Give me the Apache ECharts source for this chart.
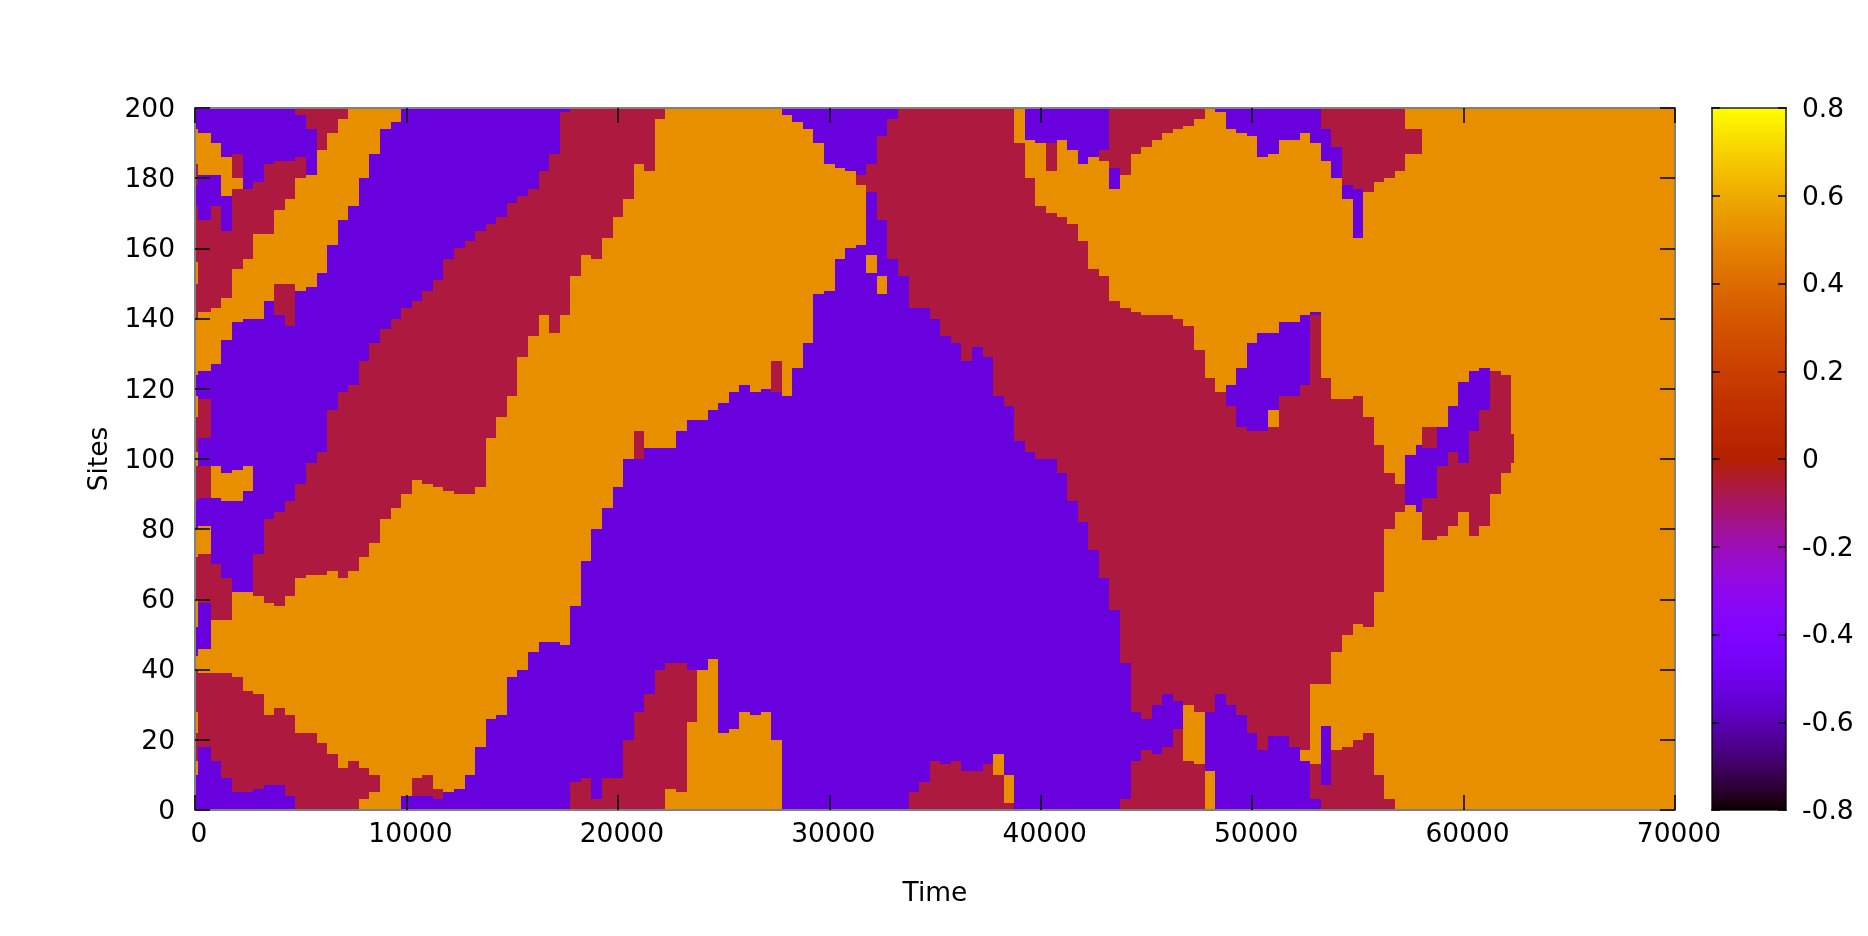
<!DOCTYPE html>
<html>
<head>
<meta charset="utf-8">
<style>
  html, body { margin: 0; padding: 0; background: #fff; }
  #chart { width: 1868px; height: 936px; }
</style>
<script src="https://cdn.jsdelivr.net/npm/echarts@6/dist/echarts.min.js"></script>
</head>
<body>
<div id="chart"></div>
<script>
// spin values of the three domains
const P = -0.53, C = -0.064, O = 0.52;

const timeTicks = [0, 10000, 20000, 30000, 40000, 50000, 60000, 70000];
const siteTicks = [0, 20, 40, 60, 80, 100, 120, 140, 160, 180, 200];
const colorTicks = [-0.8, -0.6, -0.4, -0.2, 0, 0.2, 0.4, 0.6, 0.8];

// each row: start time of the column, then value,topSite pairs from site 0 upwards
const t0to10k = [
  [0, P,10, O,14, C,22, O,28, C,40, O,44, P,52, O,60, C,72, O,80, P,88, C,98, O,102, C,112, O,118, P,124, O,140, C,150, O,156, C,172, P,178, C,184, O,194, P,200],
  [150, P,18, C,39, O,46, P,59, C,73, O,81, P,89, C,98, P,106, C,117, P,125, O,142, C,168, P,181, O,193, P,200],
  [750, P,14, C,39, O,54, C,70, P,89, O,98, P,127, O,143, C,172, P,181, O,190, P,200],
  [1250, P,9, C,39, O,54, C,66, P,88, O,96, P,134, O,146, C,165, P,175, O,186, P,200],
  [1750, P,5, C,38, O,62, P,88, O,97, P,139, O,154, C,177, O,180, C,187, P,200],
  [2250, P,5, C,34, O,62, P,91, O,98, P,140, O,157, C,177, P,200],
  [2750, P,6, C,33, O,61, C,73, P,140, O,164, C,179, P,200],
  [3250, P,7, C,27, O,59, C,83, P,145, O,164, C,184, P,200],
  [3750, P,7, C,29, O,58, C,85, P,141, C,150, O,171, C,185, P,200],
  [4250, P,4, C,27, O,61, C,88, P,138, C,150, O,174, C,185, P,200],
  [4750, C,22, O,66, C,93, P,148, O,180, C,186, P,198, C,200],
  [5250, C,22, O,67, C,99, P,149, O,181, P,194, C,200],
  [5750, C,19, O,67, C,102, P,153, O,188, C,200],
  [6250, C,16, O,68, C,114, P,161, O,193, C,200],
  [6750, C,12, O,66, C,119, P,168, O,197, C,200],
  [7250, C,14, O,68, C,121, P,172, O,200],
  [7750, O,3, C,12, O,72, C,128, P,180, O,200],
  [8250, O,5, C,10, O,76, C,133, P,187, O,200],
  [8750, O,83, C,137, P,194, O,200],
  [9250, O,86, C,140, P,196, O,200],
  [9750, P,4, O,90, C,143, P,200]
];

const t10kto20k = [
  [10250, P,4, C,9, O,94, C,145, P,200],
  [10750, P,4, C,10, O,93, C,148, P,200],
  [11250, P,3, C,6, O,92, C,151, P,200],
  [11750, P,5, O,91, C,157, P,200],
  [12250, P,6, O,90, C,160, P,200],
  [12750, P,10, O,90, C,162, P,200],
  [13250, P,18, O,92, C,165, P,200],
  [13750, P,26, O,106, C,167, P,200],
  [14250, P,27, O,112, C,169, P,200],
  [14750, P,38, O,118, C,173, P,200],
  [15250, P,40, O,129, C,175, P,200],
  [15750, P,45, O,135, C,177, P,200],
  [16250, P,48, O,141, C,182, P,200],
  [16750, P,48, O,136, C,187, P,200],
  [17250, P,47, O,141, C,199, P,200],
  [17750, C,8, P,58, O,152, C,200],
  [18250, C,9, P,71, O,158, C,200],
  [18750, C,3, P,80, O,157, C,200],
  [19250, C,9, P,86, O,163, C,200],
  [19750, C,9, P,92, O,169, C,200]
];

const t20kto30k = [
  [20250, C,20, P,100, O,174, C,200],
  [20750, C,28, P,100, C,108, O,184, C,200],
  [21250, C,33, P,103, O,182, C,200],
  [21750, C,40, P,103, O,197, C,200],
  [22250, O,6, C,42, P,103, O,200],
  [22750, O,5, C,42, P,108, O,200],
  [23250, O,25, C,40, P,111, O,200],
  [23750, O,40, P,111, O,200],
  [24250, O,43, P,114, O,200],
  [24750, O,22, P,116, O,200],
  [25250, O,23, P,119, O,200],
  [25750, O,28, P,121, O,200],
  [26250, O,27, P,119, O,200],
  [26750, O,28, P,120, O,200],
  [27250, O,20, P,119, C,128, O,200],
  [27750, P,118, O,198, P,200],
  [28250, P,126, O,196, P,200],
  [28750, P,133, O,194, P,200],
  [29250, P,147, O,190, P,200],
  [29750, P,148, O,184, P,200]
];

const t30kto40k = [
  [30250, P,157, O,183, P,200],
  [30750, P,160, O,182, P,200],
  [31250, P,161, O,178, C,181, P,200],
  [31750, P,153, O,158, P,176, C,184, P,200],
  [32250, P,147, O,152, P,168, C,192, P,200],
  [32750, P,157, C,197, P,200],
  [33250, P,152, C,200],
  [33750, C,5, P,143, C,200],
  [34250, C,8, P,143, C,200],
  [34750, C,14, P,140, C,200],
  [35250, C,13, P,135, C,200],
  [35750, C,14, P,133, C,200],
  [36250, C,11, P,128, C,200],
  [36750, C,11, P,132, C,200],
  [37250, C,13, P,129, C,200],
  [37750, C,10, O,16, P,118, C,200],
  [38250, C,2, O,10, P,115, C,200],
  [38750, P,105, C,190, O,200],
  [39250, P,102, C,180, O,191, P,200],
  [39750, P,100, C,172, O,190, P,200]
];

const t40kto50k = [
  [40250, P,100, C,170, O,182, C,190, P,200],
  [40750, P,96, C,169, O,191, P,200],
  [41250, P,88, C,167, O,188, P,200],
  [41750, P,82, C,162, O,184, P,200],
  [42250, P,74, C,154, O,186, P,200],
  [42750, P,66, C,152, O,185, C,188, P,200],
  [43250, P,57, C,145, O,177, P,183, C,200],
  [43750, C,3, P,42, C,143, O,181, C,200],
  [44250, C,14, P,28, C,142, O,187, C,200],
  [44750, C,17, P,26, C,141, O,189, C,200],
  [45250, C,16, P,30, C,141, O,191, C,200],
  [45750, C,18, P,33, C,141, O,193, C,200],
  [46250, C,23, P,31, C,140, O,194, C,200],
  [46750, C,14, O,30, C,138, O,195, C,200],
  [47250, C,13, O,28, C,131, O,197, C,200],
  [47750, O,11, P,28, C,123, O,200],
  [48250, P,33, C,119, O,199, P,200],
  [48750, P,30, C,115, P,121, O,194, P,200],
  [49250, P,27, C,109, P,126, O,193, P,200],
  [49750, P,22, C,108, P,133, O,192, P,200]
];

const t50kto70k = [
  [50250, P,17, C,108, P,136, O,186, P,200],
  [50750, P,21, C,109, O,114, P,136, O,187, P,200],
  [51250, P,21, C,118, P,139, O,191, P,200],
  [51750, P,18, C,118, P,139, O,191, P,200],
  [52250, P,14, O,17, C,121, P,141, O,193, P,200],
  [52750, P,3, C,13, O,36, C,141, P,142, O,190, P,200],
  [53250, C,7, P,24, O,36, C,123, O,185, P,194, C,200],
  [53750, C,17, O,45, C,117, O,180, P,189, C,200],
  [54250, C,18, O,50, C,117, O,174, P,178, C,200],
  [54750, C,20, O,53, C,118, O,163, P,177, C,200],
  [55250, C,22, O,52, C,112, O,176, C,200],
  [55750, C,10, O,62, C,104, O,179, C,200],
  [56250, C,3, O,80, C,96, O,180, C,200],
  [56750, O,85, C,93, O,182, C,200],
  [57250, O,87, P,101, O,187, C,194, O,200],
  [57750, O,85, P,104, O,187, C,194, O,200],
  [58050, O,77, C,89, P,103, C,109, O,200],
  [58750, O,78, C,98, P,109, O,200],
  [59250, O,81, C,102, P,115, O,200],
  [59750, O,85, C,99, P,122, O,200],
  [60250, O,78, C,108, P,125, O,200],
  [60750, O,81, C,114, P,126, O,200],
  [61250, O,90, C,125, O,200],
  [61750, O,96, C,124, O,200],
  [62250, O,99, C,107, O,200],
  [62400, O,200]
];

// gnuplot rgbformulae 7,5,15
function palette(v) {
  const x = (v + 0.8) / 1.6;
  const r = Math.sqrt(x), g = x * x * x, b = Math.max(0, Math.sin(2 * Math.PI * x));
  return 'rgb(' + Math.round(r * 255) + ',' + Math.round(g * 255) + ',' + Math.round(b * 255) + ')';
}

const rows = [].concat(t0to10k, t10kto20k, t20kto30k, t30kto40k, t40kto50k, t50kto70k);
const cells = [];
rows.forEach((row, i) => {
  const end = i + 1 < rows.length ? rows[i + 1][0] : 70000;
  let low = 0.4;
  for (let k = 1; k < row.length; k += 2) {
    cells.push([row[0], end, low, row[k + 1], row[k]]);
    low = row[k + 1];
  }
});

const gradientStops = [];
for (let i = 0; i <= 128; i++) {
  gradientStops.push({ offset: i / 128, color: palette(0.8 - 1.6 * i / 128) });
}

const chart = echarts.init(document.getElementById('chart'), null, { renderer: 'canvas' });

const labelFont = { fontFamily: 'DejaVu Sans', fontSize: 26.5, color: '#000' };
const frame = { show: true, onZero: false, lineStyle: { color: '#808080', width: 2 } };
const barFrame = { show: true, onZero: false, lineStyle: { color: 'rgba(0,0,0,0.65)', width: 2 } };
const noSplit = { show: false };

function tickStyle(len) {
  return { show: true, inside: true, length: len, lineStyle: { color: 'rgba(0,0,0,0.75)', width: 2 } };
}

chart.setOption({
  animation: false,
  backgroundColor: '#fff',
  grid: [
    { left: 195, top: 108, width: 1480, height: 702 },
    { left: 1712, top: 108, width: 74, height: 702 }
  ],
  xAxis: [
    {
      gridIndex: 0, type: 'value', min: 0, max: 70000, interval: 10000, z: 5,
      name: 'Time', nameLocation: 'middle', nameGap: 71,
      nameTextStyle: { fontFamily: 'DejaVu Sans', fontSize: 26.5, color: '#000' },
      axisLine: frame, axisTick: tickStyle(15), splitLine: noSplit,
      axisLabel: Object.assign({ margin: 12, padding: [0, 0, 0, 8], formatter: v => String(v) }, labelFont)
    },
    {
      gridIndex: 0, type: 'value', position: 'top', min: 0, max: 70000, interval: 10000, z: 5,
      axisLine: frame, axisTick: tickStyle(15), splitLine: noSplit, axisLabel: { show: false }
    },
    {
      gridIndex: 1, type: 'value', min: 0, max: 1, z: 5, axisLine: barFrame, axisTick: { show: false },
      splitLine: noSplit, axisLabel: { show: false }
    },
    {
      gridIndex: 1, type: 'value', position: 'top', min: 0, max: 1, z: 5, axisLine: barFrame, axisTick: { show: false },
      splitLine: noSplit, axisLabel: { show: false }
    }
  ],
  yAxis: [
    {
      gridIndex: 0, type: 'value', min: 0, max: 200, interval: 20, z: 5,
      name: 'Sites', nameLocation: 'middle', nameGap: 80, nameRotate: 90,
      nameTextStyle: { fontFamily: 'DejaVu Sans', fontSize: 26.5, color: '#000' },
      axisLine: frame, axisTick: tickStyle(15), splitLine: noSplit,
      axisLabel: Object.assign({ margin: 20, verticalAlign: 'top', lineHeight: 4 }, labelFont)
    },
    {
      gridIndex: 0, type: 'value', position: 'right', min: 0, max: 200, interval: 20, z: 5,
      axisLine: frame, axisTick: tickStyle(15), splitLine: noSplit, axisLabel: { show: false }
    },
    {
      gridIndex: 1, type: 'value', position: 'right', min: -0.8, max: 0.8, interval: 0.2, z: 5,
      axisLine: barFrame, axisTick: tickStyle(8), splitLine: noSplit,
      axisLabel: Object.assign({ margin: 16, verticalAlign: 'top', lineHeight: 4, formatter: v => String(Math.round(v * 10) / 10) }, labelFont)
    },
    {
      gridIndex: 1, type: 'value', position: 'left', min: -0.8, max: 0.8, interval: 0.2, z: 5,
      axisLine: barFrame, axisTick: tickStyle(8), splitLine: noSplit, axisLabel: { show: false }
    }
  ],
  series: [
    {
      type: 'custom',
      xAxisIndex: 0,
      yAxisIndex: 0,
      clip: true,
      encode: { x: [0, 1], y: [2, 3] },
      data: cells,
      renderItem: (params, api) => {
        const a = api.coord([api.value(0), api.value(3)]);
        const b = api.coord([api.value(1), api.value(2)]);
        return {
          type: 'rect',
          shape: {
            x: Math.round(a[0]), y: Math.round(a[1]),
            width: Math.round(b[0]) - Math.round(a[0]), height: Math.round(b[1]) - Math.round(a[1])
          },
          style: { fill: palette(api.value(4)) }
        };
      }
    },
    {
      type: 'custom',
      xAxisIndex: 2,
      yAxisIndex: 2,
      encode: { x: [0, 1], y: [2, 3] },
      data: [[0, 1, colorTicks[0], colorTicks[colorTicks.length - 1]]],
      renderItem: (params, api) => {
        const a = api.coord([api.value(0), api.value(3)]);
        const b = api.coord([api.value(1), api.value(2)]);
        return {
          type: 'rect',
          shape: { x: a[0], y: a[1], width: b[0] - a[0], height: b[1] - a[1] },
          style: { fill: new echarts.graphic.LinearGradient(0, 0, 0, 1, gradientStops) }
        };
      }
    }
  ]
});
</script>
</body>
</html>
